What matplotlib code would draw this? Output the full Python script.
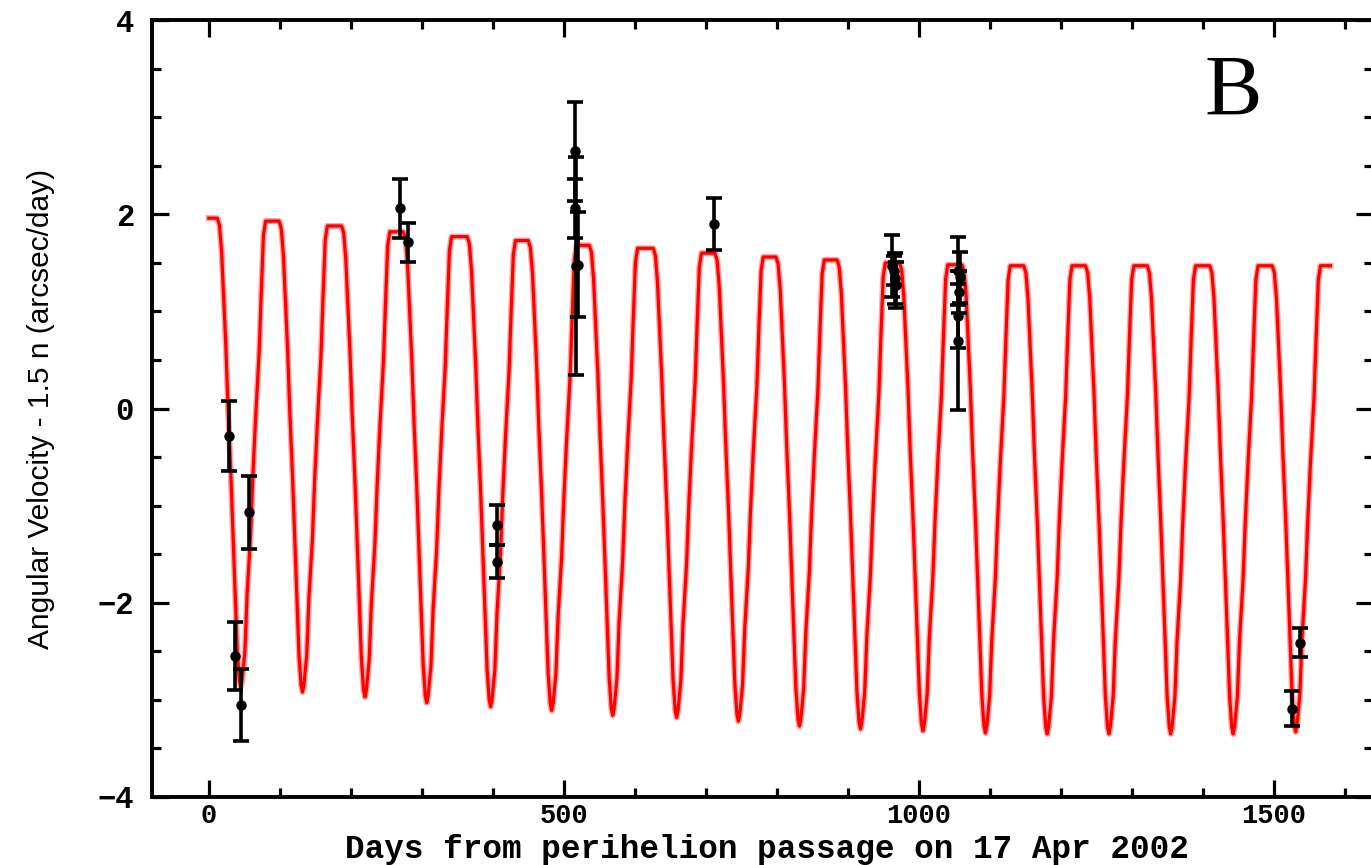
import matplotlib
matplotlib.use("Agg")
import matplotlib.pyplot as plt
from matplotlib.ticker import MultipleLocator

# ---------------- data ----------------
# model curve: trough days / values and plateau levels (plateau i sits after trough i)
trough_day = [45, 132, 220, 307, 397, 483, 569, 659, 746, 832, 918, 1006, 1094, 1181, 1268, 1355, 1443, 1531]
trough_val = [-2.87, -2.92, -2.97, -3.03, -3.07, -3.11, -3.16, -3.18, -3.22, -3.27, -3.30, -3.32, -3.34,
              -3.35, -3.35, -3.35, -3.35, -3.33]
plateau_val = [1.96, 1.93, 1.88, 1.82, 1.77, 1.73, 1.68, 1.65, 1.60, 1.56, 1.53, 1.50, 1.48, 1.47, 1.47,
               1.47, 1.47, 1.47, 1.47]
curve_start_day = 0
curve_end_day = 1580
# measured shape of one dip (days relative to trough, fraction of the swing)
dip_dt = [-33, -30, -27, -24, -21, -18, -14, -11, -8, -5, -2, 0, 2, 6, 9, 14, 17, 21, 26, 29, 32, 35]
dip_frac = [1.0, 0.985, 0.93, 0.83, 0.728, 0.6, 0.456, 0.33, 0.2, 0.08, 0.015, 0.0, 0.015, 0.08, 0.2,
            0.33, 0.45, 0.58, 0.72, 0.85, 0.97, 1.0]

# observations with error bars
obs_day = [29, 37, 45, 57, 270, 281, 406, 406, 516, 516, 517, 520, 711, 962, 965, 966, 968,
           1055, 1058, 1057, 1056, 1055, 1526, 1537]
obs_val = [-0.28, -2.55, -3.05, -1.07, 2.06, 1.71, -1.20, -1.58, 2.65, 2.06, 1.47, 1.48, 1.90,
           1.47, 1.42, 1.34, 1.27, 1.42, 1.35, 1.20, 0.95, 0.70, -3.09, -2.41]
obs_err = [0.36, 0.35, 0.37, 0.38, 0.30, 0.20, 0.21, 0.17, 0.51, 0.30, 1.12, 0.54, 0.265,
           0.32, 0.15, 0.26, 0.24, 0.35, 0.26, 0.22, 0.33, 0.72, 0.18, 0.145]

x_ticks = [0, 500, 1000, 1500]
y_ticks = [-4, -2, 0, 2, 4]
x_label = "Days from perihelion passage on 17 Apr 2002"
y_label = "Angular Velocity - 1.5 n (arcsec/day)"
panel_label = "B"

# ---------------- build model polyline from the measured pieces ----------------
cx = [curve_start_day]
cy = [plateau_val[0]]
for i, (t, v) in enumerate(zip(trough_day, trough_val)):
    p_prev = plateau_val[i]
    p_next = plateau_val[i + 1]
    for dt, f in zip(dip_dt, dip_frac):
        top = p_prev if dt < 0 else p_next
        cx.append(t + dt)
        cy.append(v + f * (top - v))
cx.append(curve_end_day)
cy.append(plateau_val[-1])

# ---------------- figure ----------------
W, H = 1371, 865
fig = plt.figure(figsize=(W / 100, H / 100), dpi=100)
ax = fig.add_axes([152 / W, 1 - 797 / H, (1373 - 152) / W, (797 - 20) / H])

ax.plot(cx, cy, color="#ffa6a6", lw=4.4, solid_joinstyle="round", zorder=2)
ax.plot(cx, cy, color="#ff0000", lw=2.3, solid_joinstyle="round", zorder=3)

ax.errorbar(obs_day, obs_val, yerr=obs_err, fmt="o", color="black", ms=6.5,
            elinewidth=2.6, capsize=5.5, capthick=2.6, zorder=4)

ax.set_xlim(-80, 1640)
ax.set_ylim(-4, 4)
ax.set_xticks(x_ticks)
ax.set_yticks(y_ticks)
ax.xaxis.set_minor_locator(MultipleLocator(100))
ax.yaxis.set_minor_locator(MultipleLocator(0.5))

for s in ax.spines.values():
    s.set_linewidth(2.8)
ax.tick_params(which="both", direction="in", top=True, right=True, color="black")
ax.tick_params(which="major", length=12, width=2.3)
ax.tick_params(which="minor", length=6.5, width=2.3)

mono = ["Liberation Mono", "DejaVu Sans Mono"]
ax.tick_params(axis="x", which="major", pad=4)
ax.tick_params(axis="y", which="major", pad=13)
for lab in ax.get_xticklabels():
    lab.set_fontfamily(mono)
    lab.set_fontweight("bold")
    lab.set_fontsize(19.5)
for lab in ax.get_yticklabels():
    lab.set_fontfamily(mono)
    lab.set_fontweight("bold")
    lab.set_fontsize(22)

ax.set_xlabel(x_label, family=mono, weight="bold", fontsize=23.5)
ax.xaxis.set_label_coords((767 - 152) / (1373 - 152), (797 - 858) / 777, transform=ax.transAxes)
ax.xaxis.label.set_va("baseline")
ax.set_ylabel(y_label, family=["Liberation Sans", "DejaVu Sans"], fontsize=21.5)
ax.yaxis.set_label_coords((41 - 152) / (1373 - 152), 0.5, transform=ax.transAxes)
ax.yaxis.label.set_va("center")

ax.text(1443, 3.24, panel_label, family=["Liberation Serif", "DejaVu Serif"], fontsize=62,
        ha="center", va="center")

fig.savefig("out.png", dpi=100)
